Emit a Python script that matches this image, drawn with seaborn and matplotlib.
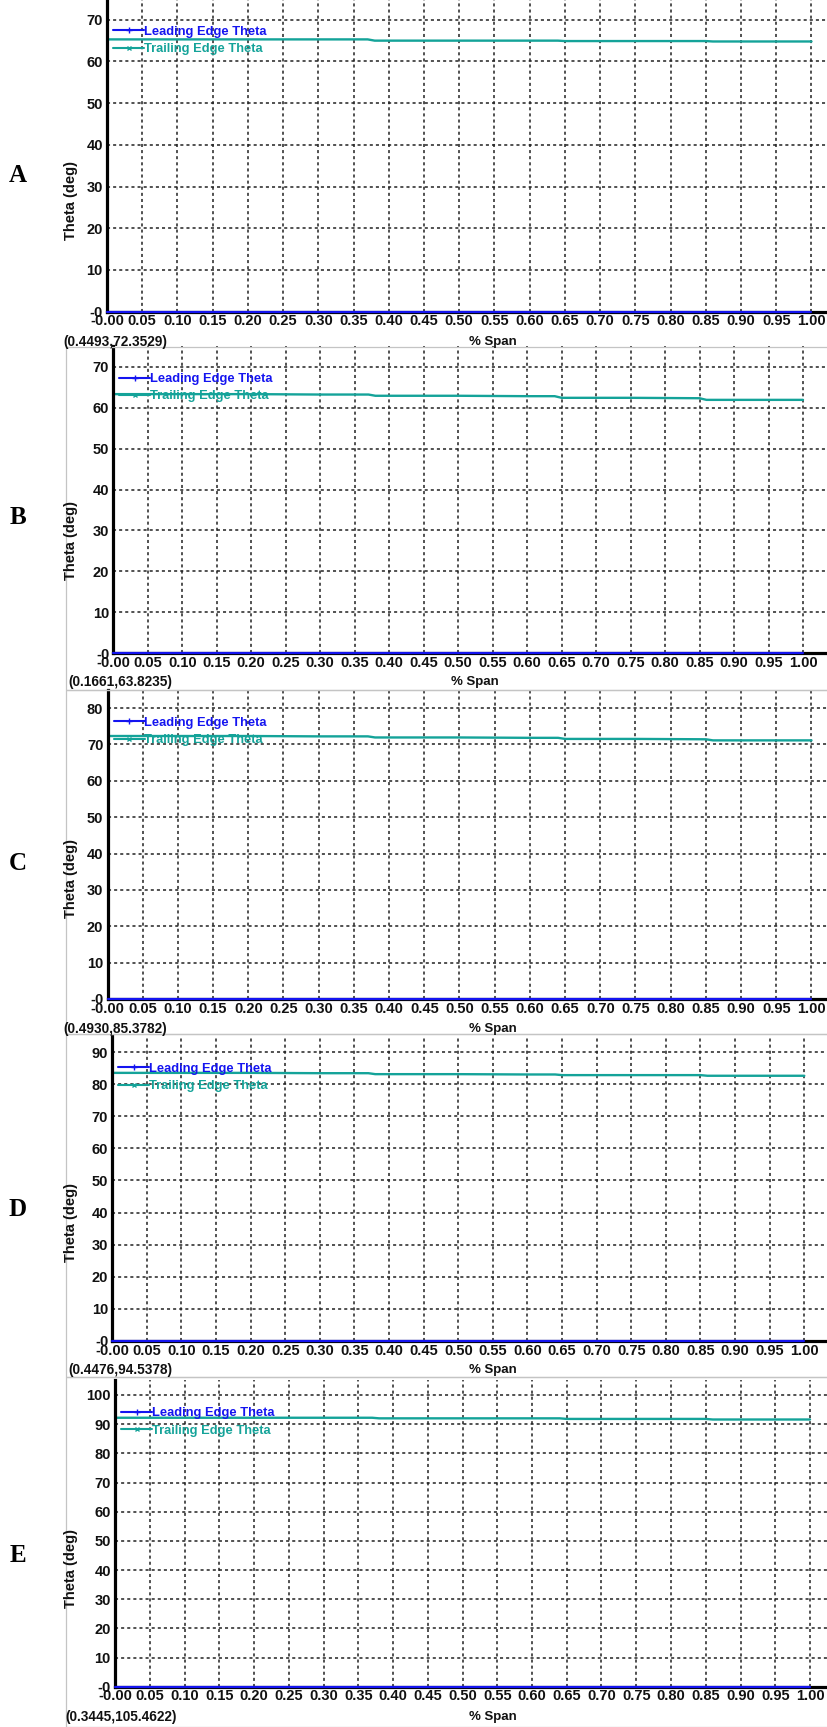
import matplotlib
matplotlib.use("Agg")
import matplotlib.pyplot as plt
import seaborn as sns
from matplotlib.lines import Line2D
from matplotlib.patches import Rectangle

# ---------------- data ----------------
span = [0.0, 0.1, 0.2, 0.3, 0.37, 0.38, 0.5, 0.6, 0.64, 0.65, 0.75, 0.85, 0.86, 0.95, 1.0]
le_theta = [0.0, 0.0, 0.0, 0.0, 0.0, 0.0, 0.0, 0.0, 0.0, 0.0, 0.0, 0.0, 0.0, 0.0, 0.0]
te_A = [65.3, 65.3, 65.3, 65.3, 65.3, 65.0, 65.0, 65.0, 65.0, 64.9, 64.9, 64.9, 64.8, 64.8, 64.8]
te_B = [63.3, 63.3, 63.3, 63.2, 63.2, 62.9, 62.9, 62.8, 62.8, 62.4, 62.4, 62.3, 61.9, 61.9, 61.9]
te_C = [72.3, 72.3, 72.3, 72.2, 72.2, 71.9, 71.9, 71.8, 71.8, 71.5, 71.5, 71.4, 71.1, 71.1, 71.1]
te_D = [83.5, 83.5, 83.5, 83.4, 83.4, 83.1, 83.1, 83.0, 83.0, 82.8, 82.8, 82.8, 82.6, 82.6, 82.6]
te_E = [92.2, 92.2, 92.2, 92.2, 92.2, 92.0, 92.0, 92.0, 92.0, 91.8, 91.8, 91.8, 91.6, 91.6, 91.6]

panel_letters = ["A", "B", "C", "D", "E"]
cursor_labels = ["(0.4493,72.3529)", "(0.1661,63.8235)", "(0.4930,85.3782)",
                 "(0.4476,94.5378)", "(0.3445,105.4622)"]
x_ticks = [0.0, 0.05, 0.10, 0.15, 0.20, 0.25, 0.30, 0.35, 0.40, 0.45, 0.50,
           0.55, 0.60, 0.65, 0.70, 0.75, 0.80, 0.85, 0.90, 0.95, 1.00]
x_ticklabels = ["-0.00", "0.05", "0.10", "0.15", "0.20", "0.25", "0.30", "0.35", "0.40",
                "0.45", "0.50", "0.55", "0.60", "0.65", "0.70", "0.75", "0.80", "0.85",
                "0.90", "0.95", "1.00"]
y_max = [75, 75, 85, 95, 105]
y_top_tick = [70, 70, 80, 90, 100]
legend_labels = ["Leading Edge Theta", "Trailing Edge Theta"]
x_label = "% Span"
y_label = "Theta (deg)"

te_series = [te_A, te_B, te_C, te_D, te_E]

# ---------------- layout (pixels) ----------------
W, H = 827, 1727
# spine x, x-pixel of 1.00, y-pixel of top tick, y-pixel of 0
layout = [
    (107.0, 811.5, 19.8, 311.6),
    (113.3, 803.0, 366.7, 653.3),
    (107.5, 811.5, 708.0, 999.0),
    (112.3, 804.3, 1052.0, 1341.0),
    (115.0, 810.0, 1395.0, 1686.7),
]
cursor_pos = [(63, 342), (68, 682), (63, 1029), (68, 1370), (65, 1717)]
span_label_x = [493, 475, 493, 493, 493]
ylabel_y = [200, 540, 878, 1222, 1569]
letter_y = [176, 518, 863, 1209, 1555]
frame_tops = [347, 690, 1034, 1377]
frame_bottoms = [690, 1034, 1377, 1727]

LE_COLOR = "#1414f0"
TE_COLOR = "#14a399"

sns.set_theme(style="white")
plt.rcParams["font.family"] = ["Liberation Sans", "DejaVu Sans"]

fig = plt.figure(figsize=(W / 100, H / 100), dpi=100)
fig.patch.set_facecolor("white")

def fx(px):
    return px / W

def fy(py):
    return 1 - py / H

for i in range(5):
    sx, x1, ytp, y0 = layout[i]
    xscale = x1 - sx
    xmax = (W + 2 - sx) / xscale
    yscale = (y0 - ytp) / y_top_tick[i]
    top_px = y0 - y_max[i] * yscale
    ax = fig.add_axes([fx(sx), fy(y0), fx(W + 2) - fx(sx), (y0 - top_px) / H])
    ax.set_facecolor("none")

    sns.lineplot(x=span, y=te_series[i], ax=ax, color=TE_COLOR, lw=1.7,
                 estimator=None, sort=False, legend=False)
    sns.lineplot(x=span, y=le_theta, ax=ax, color=LE_COLOR, lw=1.6,
                 estimator=None, sort=False, legend=False, clip_on=False, zorder=5)

    ax.set_xlim(0, xmax)
    ax.set_ylim(0, y_max[i])
    ax.set_xticks(x_ticks)
    ax.set_xticklabels(x_ticklabels, fontsize=10.5, fontweight="bold")
    yt = list(range(0, y_top_tick[i] + 1, 10))
    ax.set_yticks(yt)
    ax.set_yticklabels(["-0"] + [str(v) for v in yt[1:]], fontsize=10.5, fontweight="bold")
    ax.tick_params(axis="both", direction="inout", length=4, width=1, color="black",
                   pad=1, labelcolor="#111111")
    ax.tick_params(axis="x", pad=0)
    ax.grid(True, color="#222222", linestyle=(0, (2, 2)), lw=1.1)
    for s in ["top", "right"]:
        ax.spines[s].set_visible(False)
    ax.spines["left"].set_color("black")
    ax.spines["left"].set_linewidth(2.3)
    ax.spines["bottom"].set_color("black")
    ax.spines["bottom"].set_linewidth(2.3)
    ax.set_xlabel("")
    ax.set_ylabel("")

    handles = [
        Line2D([], [], color=LE_COLOR, lw=1.5, marker="+", markersize=4, markeredgewidth=1),
        Line2D([], [], color=TE_COLOR, lw=1.5, marker="x", markersize=3, markeredgewidth=1),
    ]
    leg = ax.legend(handles, legend_labels, loc="upper left",
                    bbox_to_anchor=(fx(sx + 6), fy(top_px + 27)),
                    bbox_transform=fig.transFigure, frameon=False,
                    prop={"weight": "bold", "size": 9.3}, handlelength=2.4,
                    handletextpad=0.0, labelspacing=0.4, borderpad=0,
                    borderaxespad=0, numpoints=1)
    for t, c in zip(leg.get_texts(), [LE_COLOR, TE_COLOR]):
        t.set_color(c)
    leg.set_zorder(6)

    cx, cy = cursor_pos[i]
    fig.text(fx(cx), fy(cy), cursor_labels[i], fontsize=9.8, fontweight="bold",
             ha="left", va="center", color="#111111")
    fig.text(fx(span_label_x[i]), fy(cy), x_label, fontsize=9.5, fontweight="bold",
             ha="center", va="center", color="#111111")
    fig.text(fx(71), fy(ylabel_y[i]), y_label, fontsize=10.5, fontweight="bold",
             rotation=90, ha="center", va="center", color="#111111")
    fig.text(fx(18), fy(letter_y[i]), panel_letters[i], fontsize=18, fontweight="bold",
             family=["Liberation Serif", "DejaVu Serif"], ha="center", va="center",
             color="black")

for t, b in zip(frame_tops, frame_bottoms):
    fig.patches.append(Rectangle((fx(66), fy(b)), fx(W + 10) - fx(66), (b - t) / H,
                                 transform=fig.transFigure, fill=False,
                                 edgecolor="#c4c4c4", lw=0.9, zorder=0))

fig.savefig("out.png", dpi=100, facecolor="white")
